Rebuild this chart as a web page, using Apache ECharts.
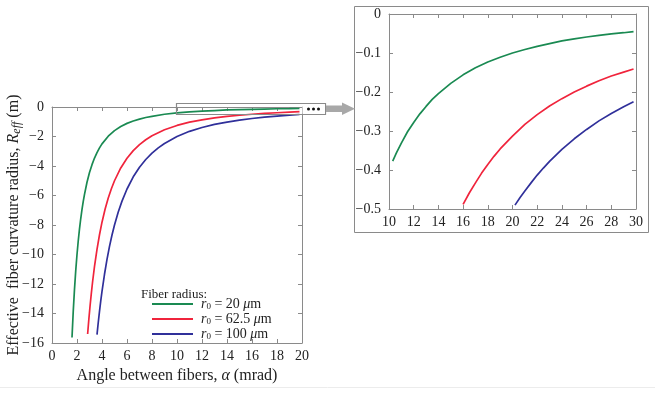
<!DOCTYPE html>
<html>
<head>
<meta charset="utf-8">
<script src="https://cdn.jsdelivr.net/npm/echarts@6/dist/echarts.min.js"></script>
<style>
  html, body { margin: 0; padding: 0; background: #fff; }
  #chart { width: 655px; height: 412px; }
</style>
</head>
<body>
<div id="chart"></div>
<script>
// values (alpha in mrad, R_eff in m)
const seriesNames = ["r0 = 20 um", "r0 = 62.5 um", "r0 = 100 um"];
const colors = ["#1a8a52", "#f0243c", "#30309a"];
const legendLabels = ["20", "62.5", "100"];

// main panel
const alphaGreen = [1.6, 1.7, 1.8, 1.9, 2.0, 2.1, 2.2, 2.3, 2.4, 2.5, 2.6, 2.8, 3.0, 3.2, 3.4, 3.6, 3.8, 4, 4.5, 5, 5.5, 6, 6.5, 7, 7.5, 8, 9, 10, 11, 12, 13, 14, 15, 16, 17, 18, 19, 19.8];
const effGreen = [-15.63, -13.84, -12.35, -11.08, -10.0, -9.07, -8.26, -7.56, -6.94, -6.4, -5.92, -5.1, -4.44, -3.91, -3.46, -3.09, -2.77, -2.5, -1.98, -1.6, -1.32, -1.11, -0.95, -0.82, -0.71, -0.63, -0.49, -0.4, -0.33, -0.28, -0.24, -0.2, -0.18, -0.16, -0.14, -0.12, -0.11, -0.1];
const alphaRed = [2.85, 2.95, 3.05, 3.15, 3.25, 3.4, 3.6, 3.8, 4.0, 4.25, 4.5, 4.75, 5, 5.5, 6, 6.5, 7, 7.5, 8, 9, 10, 11, 12, 13, 14, 15, 16, 17, 18, 19, 19.8];
const effRed = [-15.39, -14.36, -13.44, -12.6, -11.83, -10.81, -9.65, -8.66, -7.81, -6.92, -6.17, -5.54, -5.0, -4.13, -3.47, -2.96, -2.55, -2.22, -1.95, -1.54, -1.25, -1.03, -0.87, -0.74, -0.64, -0.56, -0.49, -0.43, -0.39, -0.35, -0.32];
const alphaBlue = [3.6, 3.7, 3.8, 3.9, 4.0, 4.2, 4.4, 4.6, 4.8, 5, 5.3, 5.6, 6, 6.5, 7, 7.5, 8, 8.5, 9, 10, 11, 12, 13, 14, 15, 16, 17, 18, 19, 19.8];
const effBlue = [-15.43, -14.61, -13.85, -13.15, -12.5, -11.34, -10.33, -9.45, -8.68, -8.0, -7.12, -6.38, -5.56, -4.73, -4.08, -3.56, -3.13, -2.77, -2.47, -2.0, -1.65, -1.39, -1.18, -1.02, -0.89, -0.78, -0.69, -0.62, -0.55, -0.51];

// zoomed panel
const zAlphaGreen = [10.3, 10.6, 11, 11.5, 12, 12.5, 13, 13.5, 14, 15, 16, 17, 18, 19, 20, 21, 22, 23, 24, 25, 26, 27, 28, 29, 29.8];
const zEffGreen = [-0.377, -0.356, -0.331, -0.302, -0.278, -0.256, -0.237, -0.219, -0.204, -0.178, -0.156, -0.138, -0.123, -0.111, -0.1, -0.091, -0.083, -0.076, -0.069, -0.064, -0.059, -0.055, -0.051, -0.048, -0.045];
const zAlphaRed = [16, 16.5, 17, 17.5, 18, 18.5, 19, 20, 21, 22, 23, 24, 25, 26, 27, 28, 29, 29.8];
const zEffRed = [-0.488, -0.459, -0.433, -0.408, -0.386, -0.365, -0.346, -0.313, -0.283, -0.258, -0.236, -0.217, -0.2, -0.185, -0.171, -0.159, -0.149, -0.141];
const zAlphaBlue = [20.2, 20.6, 21, 21.5, 22, 22.5, 23, 24, 25, 26, 27, 28, 29, 29.8];
const zEffBlue = [-0.49, -0.471, -0.454, -0.433, -0.413, -0.395, -0.378, -0.347, -0.32, -0.296, -0.274, -0.255, -0.238, -0.225];

const pairs = (xs, ys) => xs.map((x, i) => [x, ys[i]]);
const minus = (v) => String(v).replace("-", "\u2212");

const FONT = "Liberation Serif";
const frame = "#8a8a8a";

function makeAxis(gridIndex, min, max, interval, showLabel, position, isX) {
  return {
    type: "value",
    gridIndex: gridIndex,
    position: position,
    min: min,
    max: max,
    interval: interval,
    axisLine: { show: true, onZero: false, lineStyle: { color: frame, width: 1 } },
    axisTick: { show: true, inside: true, length: 4, lineStyle: { color: frame } },
    splitLine: { show: false },
    axisLabel: {
      show: showLabel,
      color: "#222",
      fontFamily: FONT,
      fontSize: 14,
      margin: isX ? 6 : 8,
      formatter: (v) => minus(Math.round(v * 10) / 10),
    },
  };
}

const myChart = echarts.init(document.getElementById("chart"));

const lineSeries = (name, data, color, xi, yi) => ({
  name: name,
  type: "line",
  xAxisIndex: xi,
  yAxisIndex: yi,
  data: data,
  showSymbol: false,
  symbol: "none",
  lineStyle: { color: color, width: 1.7 },
  itemStyle: { color: color },
  animation: false,
});

const xMain = makeAxis(0, 0, 20, 2, true, "bottom", true);
xMain.name = "Angle between fibers, {i|\u03b1} (mrad)";
xMain.nameLocation = "middle";
xMain.nameGap = 23;
xMain.nameTextStyle = {
  fontFamily: FONT,
  fontSize: 16,
  color: "#222",
  rich: { i: { fontFamily: FONT, fontStyle: "italic", fontSize: 16, color: "#222" } },
};

const yMain = makeAxis(0, -16, 0, 2, true, "left", false);
yMain.name = "Effective  fiber curvature radius, {i|R}{s|eff} (m)";
yMain.nameLocation = "middle";
yMain.nameGap = 29;
yMain.nameMoveOverlap = false;
yMain.nameRotate = 90;
yMain.nameTextStyle = {
  fontFamily: FONT,
  fontSize: 16,
  color: "#222",
  rich: {
    i: { fontFamily: FONT, fontStyle: "italic", fontSize: 16, color: "#222" },
    s: { fontFamily: FONT, fontStyle: "italic", fontSize: 12, color: "#222", verticalAlign: "bottom", padding: [6, 0, 0, 0] },
  },
};

myChart.setOption({
  backgroundColor: "#fff",
  animation: false,
  grid: [
    { left: 52, top: 107, width: 250, height: 236, show: false },
    { left: 389, top: 14, width: 247, height: 195, show: false },
  ],
  xAxis: [
    xMain,
    makeAxis(0, 0, 20, 2, false, "top", true),
    makeAxis(1, 10, 30, 2, true, "bottom", true),
    makeAxis(1, 10, 30, 2, false, "top", true),
  ],
  yAxis: [
    yMain,
    makeAxis(0, -16, 0, 2, false, "right", false),
    makeAxis(1, -0.5, 0, 0.1, true, "left", false),
    makeAxis(1, -0.5, 0, 0.1, false, "right", false),
  ],
  legend: {
    data: seriesNames,
    left: 152,
    top: 297,
    padding: 0,
    orient: "vertical",
    icon: "rect",
    itemWidth: 41,
    itemHeight: 2,
    itemGap: 1,
    selectedMode: false,
    textStyle: {
      fontFamily: FONT,
      fontSize: 14,
      color: "#222",
      lineHeight: 14,
      padding: [0, 0, 0, 3],
      rich: {
        i: { fontFamily: FONT, fontStyle: "italic", fontSize: 14, color: "#222", lineHeight: 14 },
        s: { fontFamily: FONT, fontSize: 9, color: "#222", verticalAlign: "bottom", lineHeight: 14, padding: [5, 0, 0, 0] },
      },
    },
    formatter: (name) => {
      const k = seriesNames.indexOf(name);
      return "{i|r}{s|0} = " + legendLabels[k] + " {i|\u03bc}m";
    },
  },
  series: [
    lineSeries(seriesNames[0], pairs(alphaGreen, effGreen), colors[0], 0, 0),
    lineSeries(seriesNames[1], pairs(alphaRed, effRed), colors[1], 0, 0),
    lineSeries(seriesNames[2], pairs(alphaBlue, effBlue), colors[2], 0, 0),
    lineSeries(seriesNames[0], pairs(zAlphaGreen, zEffGreen), colors[0], 2, 2),
    lineSeries(seriesNames[1], pairs(zAlphaRed, zEffRed), colors[1], 2, 2),
    lineSeries(seriesNames[2], pairs(zAlphaBlue, zEffBlue), colors[2], 2, 2),
  ],
  graphic: [
    // faint page separator
    { type: "line", shape: { x1: 0, y1: 387.5, x2: 655, y2: 387.5 }, style: { stroke: "#ececec", lineWidth: 1 }, z: 0 },
    // inset frame
    { type: "rect", shape: { x: 354.5, y: 6.5, width: 294, height: 226 }, style: { fill: "none", stroke: "#8a8a8a", lineWidth: 1 }, z: 1 },
    // zoom window on main plot
    { type: "rect", shape: { x: 176.5, y: 103.5, width: 149, height: 11 }, style: { fill: "none", stroke: "#8a8a8a", lineWidth: 1.2 }, z: 10 },
    { type: "rect", shape: { x: 302.5, y: 104.2, width: 22.5, height: 9.6 }, style: { fill: "#fff" }, z: 10 },
    { type: "circle", shape: { cx: 308.5, cy: 109, r: 1.5 }, style: { fill: "#111" }, z: 11 },
    { type: "circle", shape: { cx: 313.5, cy: 109, r: 1.5 }, style: { fill: "#111" }, z: 11 },
    { type: "circle", shape: { cx: 318.5, cy: 109, r: 1.5 }, style: { fill: "#111" }, z: 11 },
    // arrow towards inset
    {
      type: "polygon",
      shape: { points: [[326, 105.5], [342, 105.5], [342, 102.5], [355, 108.7], [342, 115], [342, 112], [326, 112]] },
      style: { fill: "#a8a8a8" },
      z: 10,
    },
    { type: "text", left: 141, top: 288, style: { text: "Fiber radius:", font: "13px " + FONT, fill: "#222" }, z: 10 },
  ],
});
</script>
</body>
</html>
